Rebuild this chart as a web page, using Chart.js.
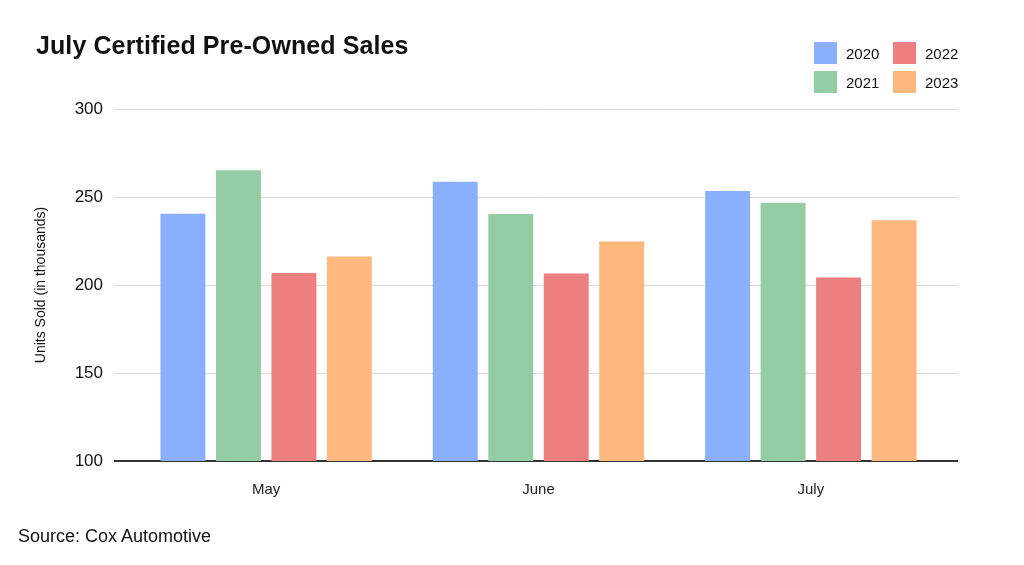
<!DOCTYPE html>
<html>
<head>
<meta charset="utf-8">
<script src="https://cdn.jsdelivr.net/npm/chart.js@4.4.0/dist/chart.umd.min.js"></script>
<style>
  body { margin: 0; background: #fff; font-family: "Liberation Sans", Arial, sans-serif; }
  #wrap { position: relative; width: 1024px; height: 565px; }
  #title { position: absolute; left: 36px; top: 31px; font-size: 25px; font-weight: bold; color: #111; letter-spacing: 0.1px; }
  #source { position: absolute; left: 18px; top: 526px; font-size: 18px; color: #111; }
  .lg { position: absolute; font-size: 15px; color: #111; }
  .lg span { position: absolute; width: 23px; height: 22px; left: 0; top: 0; }
  .lg b { position: absolute; left: 32px; top: 3px; font-weight: normal; }
</style>
</head>
<body>
<div id="wrap">
  <canvas id="myChart"></canvas>
  <div id="title">July Certified Pre-Owned Sales</div>
  <div id="source">Source: Cox Automotive</div>
</div>
<script>
// data
const months = ['May', 'June', 'July'];
const years = ['2020', '2021', '2022', '2023'];
const sales2020 = [240.5, 258.7, 253.4];
const sales2021 = [265.2, 240.3, 246.8];
const sales2022 = [206.8, 206.5, 204.2];
const sales2023 = [216.2, 224.7, 236.8];
const yTicks = [100, 150, 200, 250, 300];

const colors = ['#8aaffc', '#94cca3', '#ee7f80', '#feb87e'];
const allSales = [sales2020, sales2021, sales2022, sales2023];

// legend, two columns like the picture
const wrap = document.getElementById('wrap');
years.forEach(function (y, i) {
    const d = document.createElement('div');
    d.className = 'lg';
    d.style.left = (814 + Math.floor(i / 2) * 79) + 'px';
    d.style.top = (42 + (i % 2) * 29) + 'px';
    d.innerHTML = '<span style="background:' + colors[i] + '"></span><b>' + y + '</b>';
    wrap.appendChild(d);
});

const gridColor = (c) => (c.tick && c.tick.value === 100) ? '#333' : '#dadada';
const gridWidth = (c) => (c.tick && c.tick.value === 100) ? 2 : 1;

const ctx = document.getElementById('myChart');
const myChart = new Chart(ctx, {
    type: 'bar',
    data: {
        labels: months,
        datasets: years.map((y, i) => ({
            label: y,
            data: allSales[i],
            backgroundColor: colors[i],
            borderWidth: 0,
            categoryPercentage: 0.815,
            barPercentage: 0.81
        }))
    },
    options: {
        responsive: true,
        maintainAspectRatio: false,
        animation: false,
        layout: { padding: { top: 109, bottom: 0, left: 0, right: 0 } },
        plugins: {
            legend: { display: false },
            tooltip: { enabled: false }
        },
        scales: {
            x: {
                grid: { display: false },
                border: { display: false },
                ticks: { color: '#222', font: { family: 'Liberation Sans', size: 15 }, padding: 12 },
                afterFit: (s) => { s.height = 104; }
            },
            y: {
                min: 100,
                max: 300,
                afterBuildTicks: (s) => { s.ticks = yTicks.map(v => ({ value: v })); },
                grid: { color: gridColor, lineWidth: gridWidth, drawTicks: true, tickLength: 16 },
                border: { display: false },
                ticks: { color: '#111', font: { family: 'Liberation Sans', size: 17 }, padding: 11 },
                title: {
                    display: true,
                    text: 'Units Sold (in thousands)',
                    color: '#111',
                    font: { family: 'Liberation Sans', size: 14 },
                    padding: { top: 33, bottom: 0 }
                },
                afterFit: (s) => { s.width = 130; }
            },
            y2: {
                position: 'right',
                min: 100,
                max: 300,
                afterBuildTicks: (s) => { s.ticks = yTicks.map(v => ({ value: v })); },
                grid: { color: gridColor, lineWidth: gridWidth, drawOnChartArea: false, drawTicks: true, tickLength: 11 },
                border: { display: false },
                ticks: { display: false },
                afterFit: (s) => { s.width = 77; }
            }
        }
    }
});
</script>
</body>
</html>
